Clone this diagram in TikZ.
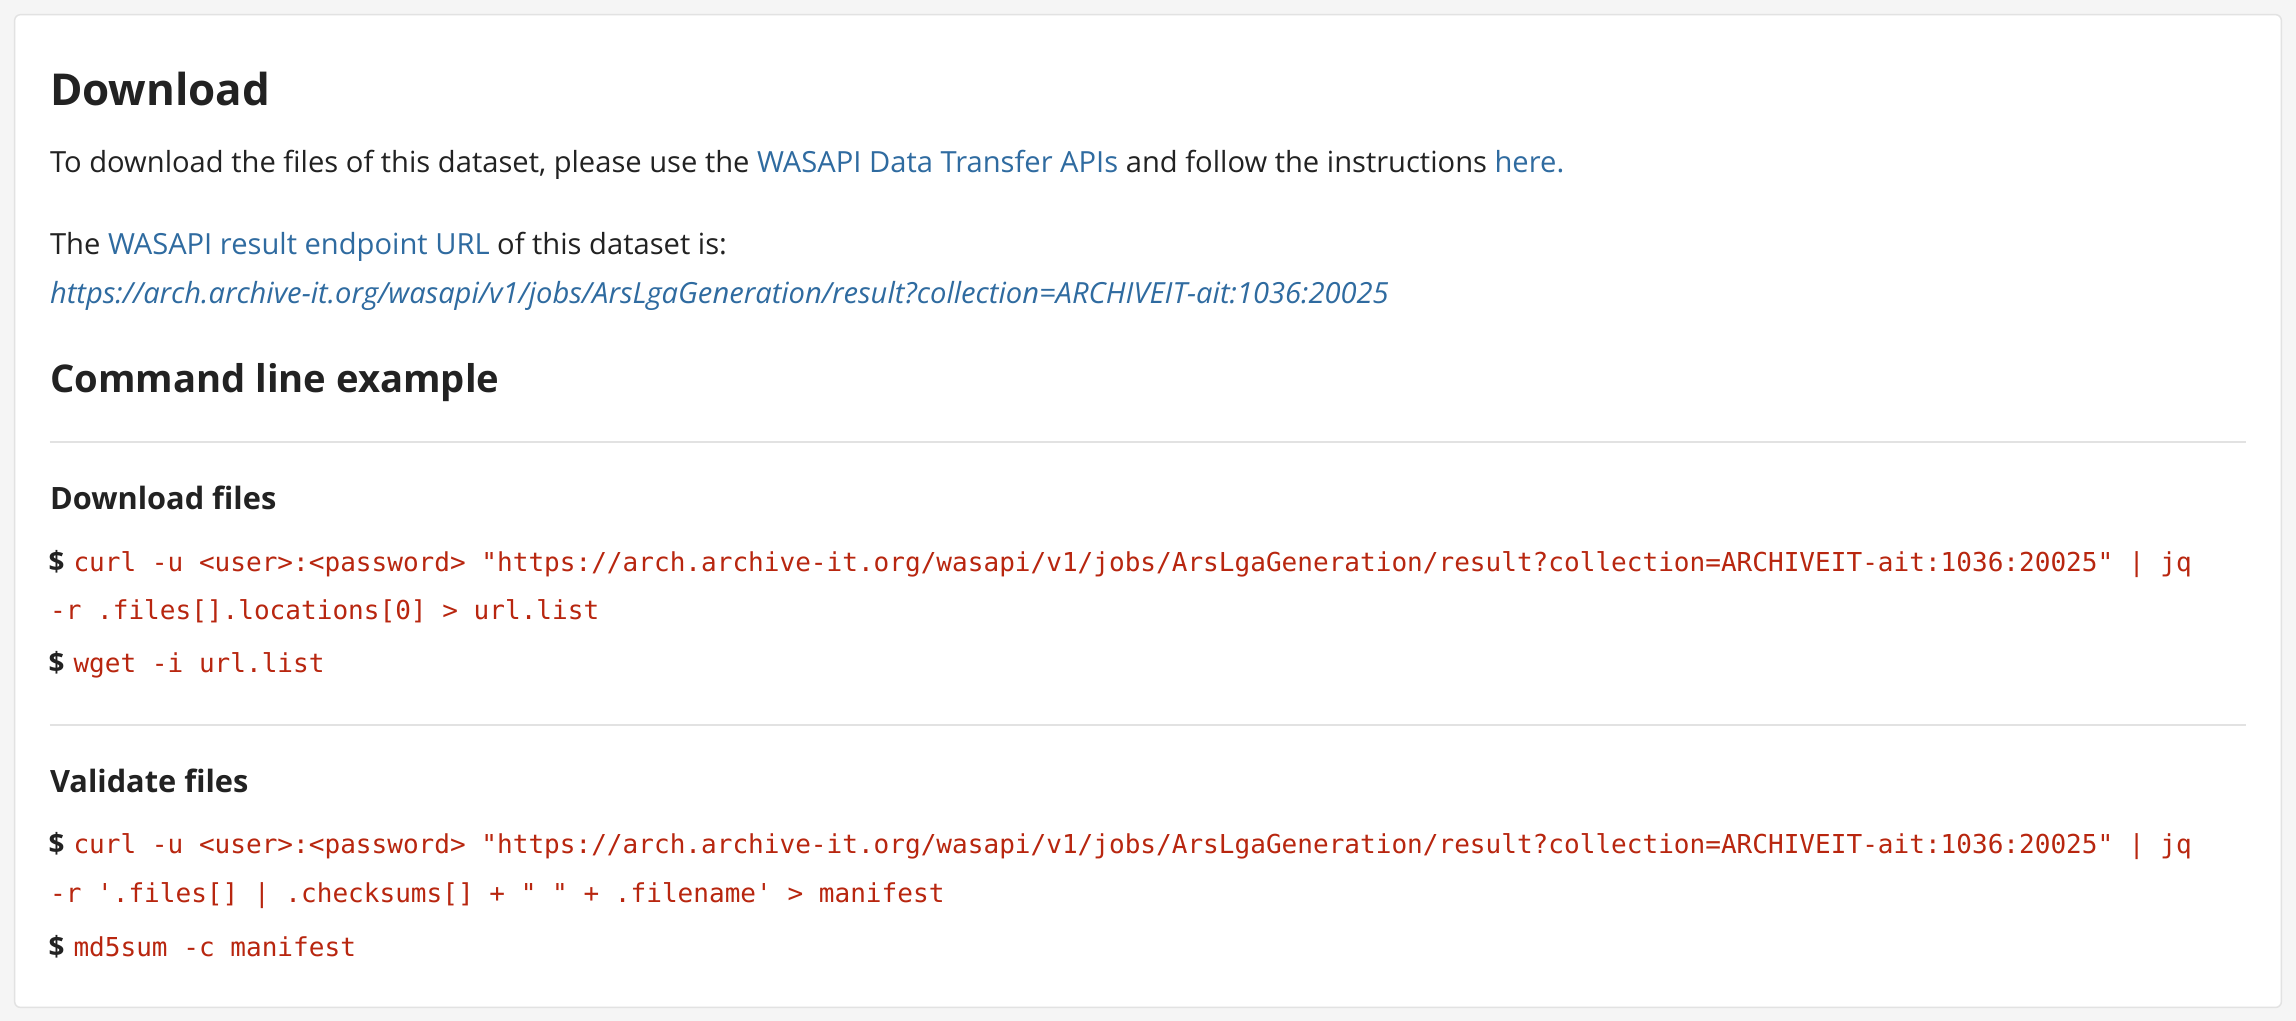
\documentclass[tikz,border=0pt]{standalone}
\usepackage{fontspec}
\setmainfont{Open Sans}
\setmonofont{DejaVu Sans Mono}
\definecolor{txt}{HTML}{222222}
\definecolor{lnk}{HTML}{2F6BA0}
\definecolor{code}{HTML}{B8260F}
\definecolor{rule}{HTML}{E2E2E2}
\definecolor{pagebg}{HTML}{F5F5F5}
\tikzset{
  t/.style={anchor=base west,inner sep=0pt,text=txt,font=\fontsize{19.9}{22}\selectfont},
  h1/.style={t,font=\bfseries\fontsize{30}{34}\selectfont},
  h2/.style={t,font=\bfseries\fontsize{26.1}{30}\selectfont},
  h3/.style={t,font=\bfseries\fontsize{21}{24}\selectfont},
  dollar/.style={t,font=\bfseries\fontsize{19}{22}\selectfont},
  cd/.style={anchor=base west,inner sep=0pt,text=code,font=\ttfamily\fontsize{17.8}{20}\selectfont},
  hr/.style={draw=rule,line width=1.2pt}
}
\begin{document}
\begin{tikzpicture}[x=1pt,y=-1pt]
\fill[pagebg] (0,0) rectangle (1568,697);
\useasboundingbox (0,0) rectangle (1568,697);
\draw[fill=white,draw=rule,line width=1pt,rounded corners=4pt] (10,10) rectangle (1558,688);
\node[h1] (title) at (34,72) {Download};
\node[t] (p1) at (34,118) {To download the files of this dataset, please use the \textcolor{lnk}{WASAPI Data Transfer APIs} and follow the instructions \textcolor{lnk}{here.}};
\node[t] (p2) at (34,174) {The \textcolor{lnk}{WASAPI result endpoint URL} of this dataset is:};
\node[t,text=lnk] (url) at (34,207) {\itshape https://arch.archive-it.org/wasapi/v1/jobs/ArsLgaGeneration/result?collection=ARCHIVEIT-ait:1036:20025};
\node[h2] (cle) at (34,268) {Command line example};
\coordinate (hr1a) at (34,302); \coordinate (hr1b) at (1534,302);
\draw[hr] (hr1a) -- (hr1b);
\node[h3] (df) at (34,348) {Download files};
\node[dollar] (d1) at (33,390) {\$};
\node[cd] (c1) at (50,390) {curl -u <user>:<password> "https://arch.archive-it.org/wasapi/v1/jobs/ArsLgaGeneration/result?collection=ARCHIVEIT-ait:1036:20025" | jq};
\node[cd] (c2) at (34,423) {-r .files[].locations[0] > url.list};
\node[dollar] (d2) at (33,459) {\$};
\node[cd] (c3) at (50,459) {wget -i url.list};
\coordinate (hr2a) at (34,495); \coordinate (hr2b) at (1534,495);
\draw[hr] (hr2a) -- (hr2b);
\node[h3] (vf) at (34,541) {Validate files};
\node[dollar] (d3) at (33,583) {\$};
\node[cd] (c4) at (50,583) {curl -u <user>:<password> "https://arch.archive-it.org/wasapi/v1/jobs/ArsLgaGeneration/result?collection=ARCHIVEIT-ait:1036:20025" | jq};
\node[cd] (c5) at (34,616) {-r '.files[] | .checksums[] + " " + .filename' > manifest};
\node[dollar] (d4) at (33,653) {\$};
\node[cd] (c6) at (50,653) {md5sum -c manifest};
\end{tikzpicture}
\end{document}
